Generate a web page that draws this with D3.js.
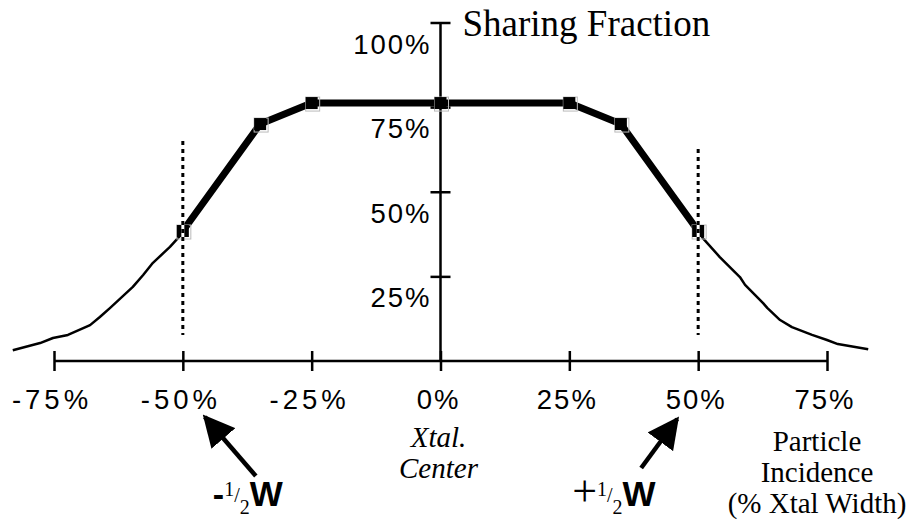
<!DOCTYPE html>
<html>
<head>
<meta charset="utf-8">
<script src="https://cdn.jsdelivr.net/npm/d3@7"></script>
<style>
  body { margin: 0; background: #fff; }
  svg { display: block; }
  .tick-label { font-family: "Liberation Sans", Arial, sans-serif; font-size: 27.5px; fill: #000; }
  .serif { font-family: "Liberation Serif", "Times New Roman", serif; fill: #000; }
</style>
</head>
<body>
<svg id="chart" width="920" height="522"></svg>
<script>
const svg = d3.select("#chart");

// x: particle incidence (fraction of xtal width), y: sharing fraction
const xTicks = [-0.75, -0.5, -0.25, 0, 0.25, 0.5, 0.75];
const yTicks = [0.25, 0.5, 0.75, 1];

// measured points (thick segment with markers)
const coreX = [-0.5, -0.35, -0.25, 0, 0.25, 0.35, 0.5];
const coreY = [0.384, 0.70, 0.762, 0.762, 0.762, 0.70, 0.384];

// simulated tails outside the crystal
const leftTailX = [-0.83, -0.777, -0.752, -0.723, -0.68, -0.661, -0.641, -0.597, -0.577, -0.558, -0.525, -0.506, -0.5];
const leftTailY = [0.032, 0.053, 0.068, 0.077, 0.106, 0.13, 0.157, 0.219, 0.254, 0.29, 0.337, 0.369, 0.384];
const rightTailX = [0.5, 0.509, 0.542, 0.581, 0.591, 0.626, 0.634, 0.659, 0.682, 0.721, 0.75, 0.771, 0.83];
const rightTailY = [0.384, 0.363, 0.307, 0.248, 0.225, 0.171, 0.157, 0.121, 0.1, 0.077, 0.062, 0.05, 0.035];

// crystal edges (dotted guides), drawn out from the edge marker
const edgeX = [-0.5, 0.5];
const edgeTop = [0.662, 0.632];
const edgeBottom = 0.077;

const x = d3.scaleLinear().domain([-0.75, 0.75]).range([54, 827]);
const y = d3.scaleLinear().domain([0, 1]).range([361, 22.5]);

const pct = v => `${Math.round(v * 100)}%`;

// x axis
const xAxisY = y(0);
const xAxis = svg.append("g")
  .attr("transform", `translate(0,${xAxisY})`)
  .call(d3.axisBottom(x).tickValues(xTicks).tickSize(0).tickFormat(""));
xAxis.select(".domain").attr("d", `M${x(-0.75)},0H${x(0.75)}`).attr("stroke", "#000").attr("stroke-width", 2.5);
xAxis.selectAll(".tick line")
  .attr("y1", -10).attr("y2", 10)
  .attr("stroke", "#000").attr("stroke-width", 2.5);

svg.append("g").selectAll("text")
  .data(xTicks)
  .join("text")
  .attr("class", "tick-label")
  .attr("x", d => x(d) - 2)
  .attr("y", xAxisY + 48)
  .attr("text-anchor", "middle")
  .style("letter-spacing", d => d < 0 ? "4px" : "2px")
  .text(pct);

// y axis
const yAxis = svg.append("g")
  .attr("transform", `translate(${x(0)},0)`)
  .call(d3.axisLeft(y).tickValues(yTicks).tickSize(0).tickFormat(""));
yAxis.select(".domain").attr("d", `M0,${y(0)}V${y(1)}`).attr("stroke", "#000").attr("stroke-width", 2.5);
yAxis.selectAll(".tick line")
  .attr("x1", -10).attr("x2", 10)
  .attr("stroke", "#000").attr("stroke-width", 2.5);

svg.append("g").selectAll("text")
  .data(yTicks)
  .join("text")
  .attr("class", "tick-label")
  .attr("x", x(0) - 9)
  .attr("y", d => y(d) + 31)
  .attr("text-anchor", "end")
  .style("letter-spacing", "2px")
  .text(pct);

svg.append("text")
  .attr("class", "serif")
  .attr("x", x(0) + 22)
  .attr("y", 36)
  .style("font-size", "37px")
  .text("Sharing Fraction");

// tails
const line = d3.line().x(d => x(d[0])).y(d => y(d[1]));
[[leftTailX, leftTailY], [rightTailX, rightTailY]].forEach(([xs, ys]) => {
  svg.append("path")
    .datum(d3.zip(xs, ys))
    .attr("d", line)
    .attr("fill", "none")
    .attr("stroke", "#000")
    .attr("stroke-width", 2.5)
    .attr("stroke-linejoin", "round");
});

// thick core line
const core = d3.zip(coreX, coreY);
svg.append("path")
  .datum(core)
  .attr("d", line)
  .attr("fill", "none")
  .attr("stroke", "#000")
  .attr("stroke-width", 7)
  .attr("stroke-linejoin", "round");

const marks = svg.append("g").selectAll("g")
  .data(core)
  .join("g")
  .attr("transform", d => `translate(${x(d[0])},${y(d[1])})`);
marks.append("rect")
  .attr("x", -6).attr("y", -6).attr("width", 14).attr("height", 14)
  .attr("fill", "none").attr("stroke", "#bbb").attr("stroke-width", 1);
marks.append("rect")
  .attr("x", -6).attr("y", -6).attr("width", 12).attr("height", 12)
  .attr("fill", "#000");

// dotted crystal edges: black dashes with white gaps, centred on the marker
edgeX.forEach((ex, i) => {
  const yc = y(coreY[i === 0 ? 0 : coreY.length - 1]);
  [y(edgeTop[i]), y(edgeBottom)].forEach(yEnd => {
    const g = svg.append("g");
    g.append("line")
      .attr("x1", x(ex)).attr("x2", x(ex))
      .attr("y1", yc).attr("y2", yEnd)
      .attr("stroke", "#fff").attr("stroke-width", 3);
    g.append("line")
      .attr("x1", x(ex)).attr("x2", x(ex))
      .attr("y1", yc).attr("y2", yEnd)
      .attr("stroke", "#000").attr("stroke-width", 3)
      .attr("stroke-dasharray", "4,4")
      .attr("stroke-dashoffset", 2);
  });
});

// axis annotations, one text per line
const centerLines = ["Xtal.", "Center"];
svg.append("g").selectAll("text")
  .data(centerLines)
  .join("text")
  .attr("class", "serif")
  .attr("text-anchor", "middle")
  .style("font-style", "italic")
  .style("font-size", "29px")
  .attr("x", x(0) - 2)
  .attr("y", (d, i) => 447 + i * 31)
  .text(d => d);

const incidenceLines = ["Particle", "Incidence", "(% Xtal Width)"];
svg.append("g").selectAll("text")
  .data(incidenceLines)
  .join("text")
  .attr("class", "serif")
  .attr("text-anchor", "middle")
  .style("font-size", "29px")
  .attr("x", 817)
  .attr("y", (d, i) => 451 + i * 31)
  .text(d => d);

// half-width arrows
svg.append("defs").append("marker")
  .attr("id", "head")
  .attr("viewBox", "0 0 10 10")
  .attr("refX", 9).attr("refY", 5)
  .attr("markerWidth", 7).attr("markerHeight", 7)
  .attr("markerUnits", "strokeWidth")
  .attr("orient", "auto")
  .append("path")
  .attr("d", "M0,0L10,5L0,10Z")
  .attr("fill", "#000");

const arrows = [
  { from: [x(-0.5) + 73, xAxisY + 115], to: [x(-0.5) + 22, xAxisY + 56] },
  { from: [x(0.5) - 57, xAxisY + 107], to: [x(0.5) - 21, xAxisY + 58] }
];
svg.append("g").selectAll("line")
  .data(arrows)
  .join("line")
  .attr("x1", d => d.from[0]).attr("y1", d => d.from[1])
  .attr("x2", d => d.to[0]).attr("y2", d => d.to[1])
  .attr("stroke", "#000").attr("stroke-width", 4.5)
  .attr("marker-end", "url(#head)");

const halfW = [
  { sign: "-", x: x(-0.5) + 30, signFont: "Liberation Sans", signWeight: "bold", signSize: 34 },
  { sign: "+", x: x(0.5) - 126, signFont: "Liberation Serif", signWeight: "normal", signSize: 44 }
];
halfW.forEach(h => {
  const t = svg.append("text").attr("x", h.x).attr("y", 506);
  t.append("tspan")
    .style("font-family", h.signFont).style("font-weight", h.signWeight)
    .style("font-size", `${h.signSize}px`).text(h.sign);
  t.append("tspan").attr("class", "serif").attr("dy", -10)
    .style("font-size", "20px").text("1");
  t.append("tspan").attr("class", "serif").attr("dy", 6)
    .style("font-size", "20px").text("/");
  t.append("tspan").attr("class", "serif").attr("dy", 12)
    .style("font-size", "20px").text("2");
  t.append("tspan").attr("dy", -8)
    .style("font-family", "Liberation Sans").style("font-weight", "bold")
    .style("font-size", "35px").text("W");
});
</script>
</body>
</html>
